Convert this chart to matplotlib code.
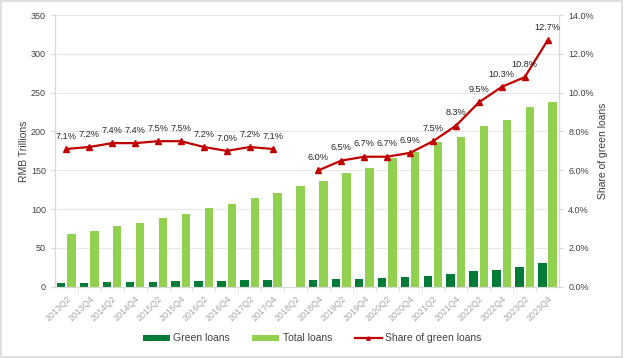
import numpy as np
import matplotlib
matplotlib.use('Agg')
import matplotlib.pyplot as plt
from matplotlib.patches import Rectangle

plt.rcParams['font.family'] = ['Liberation Sans', 'DejaVu Sans']

quarters = ['2013Q2', '2013Q4', '2014Q2', '2014Q4', '2015Q2', '2015Q4', '2016Q2', '2016Q4',
            '2017Q2', '2017Q4', '2018Q2', '2018Q4', '2019Q2', '2019Q4', '2020Q2', '2020Q4',
            '2021Q2', '2021Q4', '2022Q2', '2022Q4', '2023Q2', '2023Q4']
green_loans = [4.8, 5.2, 5.8, 6.1, 6.6, 7.0, 7.3, 7.5, 8.2, 8.6, np.nan, 8.2,
               9.5, 10.3, 11.1, 12.0, 14.0, 16.0, 19.7, 22.1, 25.0, 30.2]
total_loans = [68, 72, 78, 82, 88.5, 94, 101, 106.6, 114, 120.6, 129.7, 136,
               146.5, 153, 166, 173.6, 186.5, 193, 207, 215, 231.5, 238]
share = [7.1, 7.2, 7.4, 7.4, 7.5, 7.5, 7.2, 7.0, 7.2, 7.1, np.nan, 6.0,
         6.5, 6.7, 6.7, 6.9, 7.5, 8.3, 9.5, 10.3, 10.8, 12.7]

dark_green = '#007A37'
light_green = '#92D050'
red = '#C00000'
grey = '#D9D9D9'
text_col = '#404040'

fig = plt.figure(figsize=(6.24, 3.58), dpi=100)
ax = fig.add_axes([0.088, 0.199, 0.808, 0.759])
ax2 = ax.twinx()

x = np.arange(len(quarters))
w = 0.37
ax.bar(x - 0.23, green_loans, w, color=dark_green, label='Green loans', zorder=2)
ax.bar(x + 0.22, total_loans, w, color=light_green, label='Total loans', zorder=2)

ax2.plot(x, share, color=red, lw=1.6, marker='^', ms=5, label='Share of green loans', zorder=3)
for xi, s in zip(x, share):
    if not np.isnan(s):
        ax2.annotate(f'{s:.1f}%', (xi, s), xytext=(0, 6), textcoords='offset points',
                     ha='center', va='bottom', fontsize=6.6, color='#262626')

ax.set_xlim(-0.5, len(quarters) - 0.5)
ax.set_ylim(0, 350)
ax.set_yticks(range(0, 351, 50))
ax2.set_ylim(0, 14)
ax2.set_yticks(np.arange(0, 14.1, 2))
ax2.set_yticklabels([f'{v:.1f}%' for v in np.arange(0, 14.1, 2)])

ax.set_xticks(x)
ax.set_xticklabels(quarters, rotation=45, ha='right', rotation_mode='anchor', fontsize=6.5, color='#A6A6A6')
ax.set_xticks(x[:-1] + 0.5, minor=True)
ax.tick_params(axis='x', which='major', length=0, pad=5)
ax.tick_params(axis='x', which='minor', length=3, color=grey)
ax.tick_params(axis='y', labelsize=6.5, labelcolor=text_col, length=3, color=grey)
ax2.tick_params(axis='y', labelsize=6.5, labelcolor=text_col, length=3, color=grey)

ax.grid(axis='y', color='#E8E8E8', lw=0.8, zorder=0)
ax.set_axisbelow(True)
for a in (ax, ax2):
    a.spines['top'].set_visible(False)
    for sp in ('left', 'right', 'bottom'):
        a.spines[sp].set_color(grey)

ax.set_ylabel('RMB Trillions', fontsize=7.5, color=text_col, labelpad=1)
ax2.set_ylabel('Share of green loans', fontsize=7.5, color=text_col, labelpad=3)

h1, l1 = ax.get_legend_handles_labels()
h2, l2 = ax2.get_legend_handles_labels()
fig.legend(h1 + h2, l1 + l2, loc='center', bbox_to_anchor=(0.5, 0.055), ncol=3, frameon=False,
           fontsize=7.5, labelcolor=text_col, handlelength=2.6, handleheight=0.5,
           columnspacing=2.2, handletextpad=0.3, markerscale=0.5)

fig.patches.append(Rectangle((0.002, 0.004), 0.995, 0.993, transform=fig.transFigure,
                             fill=False, edgecolor=grey, lw=1.2))

fig.savefig('out.png', dpi=100)
